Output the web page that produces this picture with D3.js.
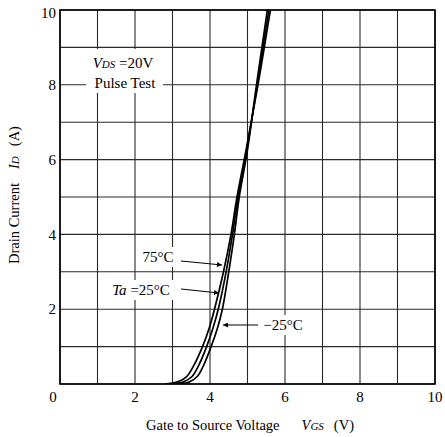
<!DOCTYPE html>
<html>
<head>
<meta charset="utf-8">
<script src="https://cdn.jsdelivr.net/npm/d3@7"></script>
<style>
  html, body { margin: 0; padding: 0; background: #fff; }
  svg { display: block; }
  text { font-family: "Liberation Serif", "DejaVu Serif", serif; fill: #000; }
</style>
</head>
<body>
<svg id="chart" width="445" height="437"></svg>
<script>
// Gate voltage (V) vs drain current (A) for three ambient temperatures
const vgs75  = [2.80, 3.12, 3.38, 3.57, 3.80, 3.98, 4.12, 4.36, 4.56, 4.72, 4.97, 5.28, 5.61];
const id75   = [0.00, 0.05, 0.20, 0.50, 1.00, 1.50, 2.00, 3.00, 4.00, 5.00, 6.30, 8.00, 10.0];
const vgs25  = [2.95, 3.28, 3.52, 3.70, 3.91, 4.08, 4.22, 4.43, 4.60, 4.75, 4.98, 5.26, 5.57];
const id25   = [0.00, 0.05, 0.20, 0.50, 1.00, 1.50, 2.00, 3.00, 4.00, 5.00, 6.25, 8.00, 10.0];
const vgsM25 = [3.10, 3.44, 3.66, 3.83, 4.03, 4.20, 4.33, 4.50, 4.65, 4.78, 4.99, 5.24, 5.53];
const idM25  = [0.00, 0.05, 0.20, 0.50, 1.00, 1.50, 2.00, 3.00, 4.00, 5.00, 6.20, 8.00, 10.0];

const xTicks = [0, 2, 4, 6, 8, 10];
const yTicks = [2, 4, 6, 8, 10];
const gridX = d3.range(0, 11, 1);
const gridY = d3.range(0, 11, 1);

const svg = d3.select("#chart");
const plotL = 60, plotR = 435, plotT = 10, plotB = 384;

const x = d3.scaleLinear().domain([0, 10]).range([plotL, plotR]);
const y = d3.scaleLinear().domain([0, 10]).range([plotB, plotT]);

svg.append("defs").append("clipPath").attr("id", "plotClip")
  .append("rect").attr("x", plotL).attr("y", plotT)
  .attr("width", plotR - plotL).attr("height", plotB - plotT);

// grid
const grid = svg.append("g");
grid.selectAll("line.gx").data(gridX).join("line")
  .attr("class", "gx")
  .attr("x1", d => x(d)).attr("x2", d => x(d))
  .attr("y1", plotT).attr("y2", plotB)
  .attr("stroke", "#2a2a2a").attr("stroke-width", 1.1);
grid.selectAll("line.gy").data(gridY).join("line")
  .attr("class", "gy")
  .attr("x1", plotL).attr("x2", plotR)
  .attr("y1", d => y(d)).attr("y2", d => y(d))
  .attr("stroke", "#2a2a2a").attr("stroke-width", 1.1);

// frame
svg.append("rect")
  .attr("x", plotL).attr("y", plotT)
  .attr("width", plotR - plotL).attr("height", plotB - plotT)
  .attr("fill", "none").attr("stroke", "#000").attr("stroke-width", 1.6);

// tick labels
svg.append("g").selectAll("text").data(xTicks).join("text")
  .attr("x", d => d === 0 ? x(d) - 7 : x(d))
  .attr("y", 397).attr("dy", "0.35em")
  .attr("text-anchor", "middle").attr("font-size", 15)
  .text(d => d);
svg.append("g").selectAll("text").data(yTicks).join("text")
  .attr("x", 56)
  .attr("y", d => d === 10 ? y(d) + 3 : y(d)).attr("dy", "0.35em")
  .attr("text-anchor", "end").attr("font-size", 15)
  .text(d => d);

// axis titles
const xt = svg.append("text")
  .attr("x", 250).attr("y", 430)
  .attr("text-anchor", "middle").attr("font-size", 14.5);
xt.append("tspan").text("Gate to Source Voltage");
xt.append("tspan").attr("dx", 22).attr("font-style", "italic").text("V");
xt.append("tspan").attr("font-style", "italic").attr("font-size", 11).text("GS");
xt.append("tspan").attr("dx", 10).text("(V)");

const yt = svg.append("text")
  .attr("transform", "translate(19,195) rotate(-90)")
  .attr("text-anchor", "middle").attr("font-size", 14.5);
yt.append("tspan").text("Drain Current");
yt.append("tspan").attr("dx", 14).attr("font-style", "italic").text("I");
yt.append("tspan").attr("font-style", "italic").attr("font-size", 11).text("D");
yt.append("tspan").attr("dx", 10).text("(A)");

// test condition box
svg.append("rect").attr("x", 86).attr("y", 49).attr("width", 77).attr("height", 44).attr("fill", "#fff");
const cond = svg.append("text").attr("x", 123).attr("y", 68)
  .attr("text-anchor", "middle").attr("font-size", 15);
cond.append("tspan").attr("font-style", "italic").text("V");
cond.append("tspan").attr("font-style", "italic").attr("font-size", 11).text("DS");
cond.append("tspan").text(" =20V");
svg.append("text").attr("x", 125).attr("y", 88)
  .attr("text-anchor", "middle").attr("font-size", 15).text("Pulse Test");

// curves
const series = [
  { v: vgs75, i: id75 },
  { v: vgs25, i: id25 },
  { v: vgsM25, i: idM25 }
];
const line = d3.line().x(d => x(d[0])).y(d => y(d[1])).curve(d3.curveCatmullRom.alpha(0.5));
svg.append("g").attr("clip-path", "url(#plotClip)")
  .selectAll("path").data(series).join("path")
  .attr("d", s => line(s.v.map((v, k) => [v, s.i[k]])))
  .attr("fill", "none").attr("stroke", "#000").attr("stroke-width", 1.7);

// arrowhead
svg.append("defs").append("marker")
  .attr("id", "ah").attr("viewBox", "0 0 10 10")
  .attr("refX", 10).attr("refY", 5)
  .attr("markerWidth", 7).attr("markerHeight", 5)
  .attr("markerUnits", "userSpaceOnUse")
  .attr("orient", "auto")
  .append("path").attr("d", "M0,0 L10,5 L0,10 Z").attr("fill", "#000");

// temperature labels on white patches
svg.append("rect").attr("x", 140).attr("y", 247).attr("width", 36).attr("height", 20).attr("fill", "#fff");
svg.append("rect").attr("x", 108).attr("y", 280).attr("width", 68).attr("height", 20).attr("fill", "#fff");
svg.append("rect").attr("x", 259).attr("y", 315).attr("width", 48).attr("height", 20).attr("fill", "#fff");

svg.append("text").attr("x", 158).attr("y", 257).attr("dy", "0.35em")
  .attr("text-anchor", "middle").attr("font-size", 15).text("75°C");
const t25 = svg.append("text").attr("x", 141).attr("y", 290).attr("dy", "0.35em")
  .attr("text-anchor", "middle").attr("font-size", 15);
t25.append("tspan").attr("font-style", "italic").text("Ta");
t25.append("tspan").text(" =25°C");
svg.append("text").attr("x", 283).attr("y", 325).attr("dy", "0.35em")
  .attr("text-anchor", "middle").attr("font-size", 15).text("−25°C");

// leader arrows
const arrows = [
  [181, 261, 222, 265],
  [181, 289, 219, 293],
  [258, 325, 223, 325]
];
svg.append("g").selectAll("line").data(arrows).join("line")
  .attr("x1", d => d[0]).attr("y1", d => d[1])
  .attr("x2", d => d[2]).attr("y2", d => d[3])
  .attr("stroke", "#000").attr("stroke-width", 1)
  .attr("marker-end", "url(#ah)");
</script>
</body>
</html>
